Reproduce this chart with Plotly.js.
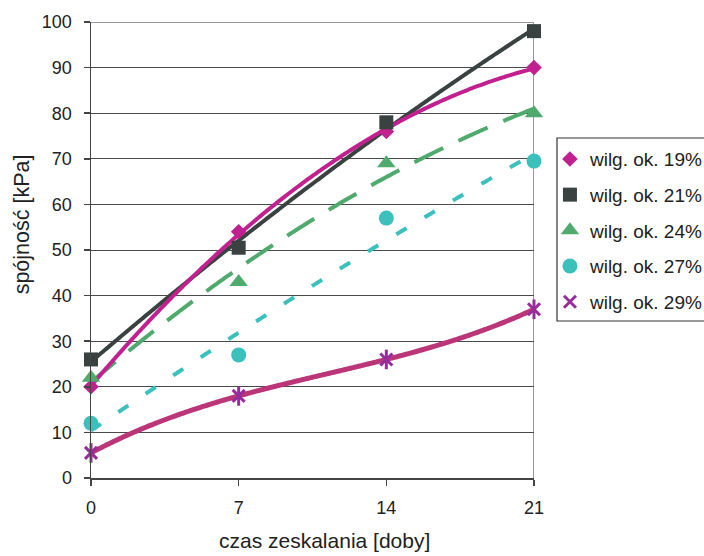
<!DOCTYPE html>
<html>
<head>
<meta charset="utf-8">
<script src="https://cdn.plot.ly/plotly-3.0.1.min.js"></script>
<style>
  html, body { margin: 0; padding: 0; background: #fff; }
  #chart { width: 704px; height: 556px; }
</style>
</head>
<body>
<div id="chart"></div>
<script>
// Curing time [days]
const days = [0, 7, 14, 21];

// Cohesion [kPa] for each moisture content
const w19 = [20, 54, 76, 90];
const w21 = [26, 50.5, 78, 98];
const w24 = [22, 43, 69, 80];
const w27 = [12, 27, 57, 69.5];
const w29 = [5.5, 18, 26, 37];

const seriesNames = ['wilg. ok. 19%', 'wilg. ok. 21%', 'wilg. ok. 24%', 'wilg. ok. 27%', 'wilg. ok. 29%'];
const xTicks = [0, 7, 14, 21];
const yTicks = [0, 10, 20, 30, 40, 50, 60, 70, 80, 90, 100];
const xTitle = 'czas zeskalania [doby]';
const yTitle = 'spójność [kPa]';

// Least-squares polynomial trend line fitted to one series
function polyfit(xs, ys, deg) {
  const n = deg + 1;
  const A = [];
  for (let i = 0; i < n; i++) {
    A.push(new Array(n + 1).fill(0));
    for (let j = 0; j < n; j++) {
      A[i][j] = xs.reduce((s, x) => s + Math.pow(x, i + j), 0);
    }
    A[i][n] = xs.reduce((s, x, k) => s + Math.pow(x, i) * ys[k], 0);
  }
  for (let c = 0; c < n; c++) {
    let p = c;
    for (let r = c + 1; r < n; r++) if (Math.abs(A[r][c]) > Math.abs(A[p][c])) p = r;
    const tmp = A[c]; A[c] = A[p]; A[p] = tmp;
    for (let r = 0; r < n; r++) {
      if (r === c) continue;
      const f = A[r][c] / A[c][c];
      for (let k = c; k <= n; k++) A[r][k] -= f * A[c][k];
    }
  }
  return A.map((row, i) => row[n] / row[i]);
}
function trend(xs, ys, deg) {
  const coef = polyfit(xs, ys, deg);
  const tx = [], ty = [];
  const x0 = xs[0], x1 = xs[xs.length - 1];
  for (let k = 0; k <= 168; k++) {
    const x = x0 + (x1 - x0) * k / 168;
    tx.push(x);
    ty.push(coef.reduce((s, c, i) => s + c * Math.pow(x, i), 0));
  }
  return { x: tx, y: ty };
}

const t19 = trend(days, w19, 2);
const t21 = trend(days, w21, 2);
const t24 = trend(days, w24, 2);
const t27 = trend(days, w27, 2);
const t29 = trend(days, w29, 3);

function line(t, color, width, dash) {
  return { x: t.x, y: t.y, type: 'scatter', mode: 'lines', showlegend: false,
           hoverinfo: 'skip', line: { color: color, width: width, dash: dash || 'solid', shape: 'spline' } };
}
function pts(ys, name, marker) {
  return { x: days, y: ys, type: 'scatter', mode: 'markers', name: name,
           legendgroup: name, cliponaxis: false, marker: marker };
}

const data = [
  line(t29, '#bb3579', 5),
  line(t27, '#3cc0bc', 4, '12px,21px'),
  line(t24, '#50a96d', 4, '32px,17px'),
  line(t21, '#394241', 4),
  line(t19, '#c1218f', 4),
  pts(w19, seriesNames[0], { symbol: 'diamond', size: 12, color: '#c1218f' }),
  pts(w21, seriesNames[1], { symbol: 'square', size: 14, color: '#394241' }),
  pts(w24, seriesNames[2], { symbol: 'triangle-up', size: 16, color: '#50a96d' }),
  pts(w27, seriesNames[3], { symbol: 'circle', size: 15, color: '#3cc0bc' }),
  pts(w29, seriesNames[4], { symbol: 'x-thin-open', size: 12, color: '#962d9a',
                             line: { width: 3, color: '#962d9a' } }),
  // vertical stroke of the star marker
  { x: days, y: w29, type: 'scatter', mode: 'markers', showlegend: false, hoverinfo: 'skip',
    cliponaxis: false, legendgroup: seriesNames[4],
    marker: { symbol: 'line-ns-open', size: 14, color: '#962d9a', line: { width: 3, color: '#962d9a' } } }
];

const font = { family: '"Liberation Sans", Arial, sans-serif', color: '#222' };

const layout = {
  width: 704, height: 556,
  margin: { l: 91, r: 170, t: 22, b: 78, autoexpand: false },
  paper_bgcolor: '#fff', plot_bgcolor: '#fff',
  font: font,
  showlegend: true,
  legend: {
    x: 1.036, y: 0.741, xanchor: 'left', yanchor: 'top',
    bgcolor: 'rgba(0,0,0,0)', borderwidth: 0,
    font: Object.assign({}, font, { size: 19 }),
    tracegroupgap: 8
  },
  xaxis: {
    range: [0, 21], tickvals: xTicks, ticktext: xTicks.map(String),
    showgrid: false, zeroline: false,
    showline: true, linecolor: '#444', linewidth: 1.5,
    ticks: 'outside', ticklen: 6, tickcolor: '#444', tickwidth: 1.5,
    tickfont: Object.assign({}, font, { size: 18 }),
    ticklabelstandoff: 7
  },
  yaxis: {
    range: [0, 100], tickvals: yTicks, ticktext: yTicks.map(String),
    showgrid: true, gridcolor: '#4a4a4a', gridwidth: 1, zeroline: false,
    showline: true, linecolor: '#444', linewidth: 1.5,
    ticks: 'outside', ticklen: 6, tickcolor: '#444', tickwidth: 1.5,
    tickfont: Object.assign({}, font, { size: 18 }),
    ticklabelstandoff: 8
  },
  annotations: [
    { text: xTitle, xref: 'paper', yref: 'paper', x: 0.528, y: -0.138,
      xanchor: 'center', yanchor: 'middle', showarrow: false,
      font: Object.assign({}, font, { size: 21 }) },
    { text: yTitle, xref: 'paper', yref: 'paper', x: -0.155, y: 0.557, textangle: -90,
      xanchor: 'center', yanchor: 'middle', showarrow: false,
      font: Object.assign({}, font, { size: 21.5 }) }
  ],
  shapes: [
    // frame: top and right edges
    { type: 'line', xref: 'x', yref: 'y', x0: 0, x1: 21, y0: 100, y1: 100, layer: 'below',
      line: { color: '#999', width: 2 } },
    { type: 'line', xref: 'x', yref: 'y', x0: 21, x1: 21, y0: 0, y1: 100, layer: 'below',
      line: { color: '#999', width: 2 } },
    // legend box
    { type: 'rect', xref: 'paper', yref: 'paper', x0: 1.0519, x1: 1.5, y0: 0.3443, y1: 0.7456,
      line: { color: '#333', width: 1.2 }, fillcolor: 'rgba(0,0,0,0)' }
  ]
};

Plotly.newPlot('chart', data, layout, { displayModeBar: false, staticPlot: true });
</script>
</body>
</html>
